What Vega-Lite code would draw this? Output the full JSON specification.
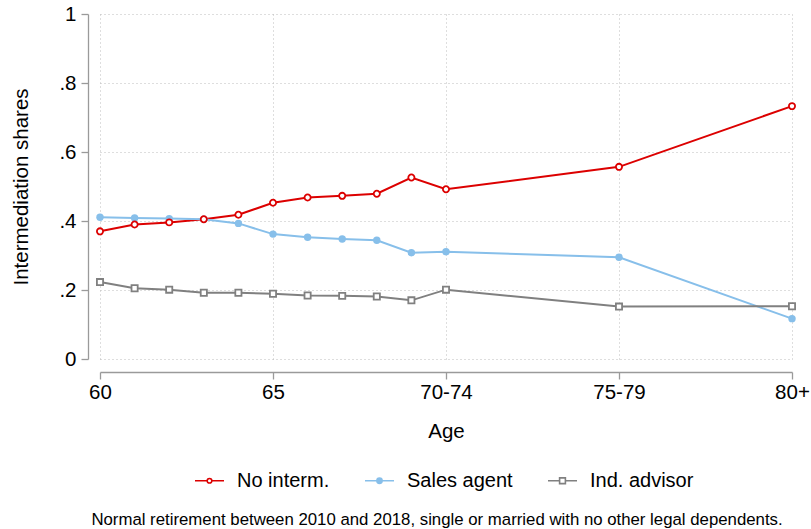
{
  "$schema": "https://vega.github.io/schema/vega-lite/v6.json",
  "width": 692,
  "height": 345,
  "autosize": {"type": "none"},
  "padding": {"left": 100, "top": 14, "right": 19, "bottom": 170},
  "background": "white",
  "config": {
    "font": "Liberation Sans",
    "view": {"stroke": null},
    "axis": {
      "domainColor": "#9a9a9a",
      "tickColor": "#9a9a9a",
      "domainWidth": 1.3,
      "tickWidth": 1.3,
      "tickSize": 7,
      "labelColor": "#000000",
      "titleColor": "#000000",
      "labelFontSize": 20.5,
      "titleFontSize": 20.5,
      "titleFontWeight": "normal",
      "gridColor": "#bdbdbd",
      "gridDash": [1, 3],
      "gridWidth": 1
    }
  },
  "title": {
    "text": "Normal retirement between 2010 and 2018, single or married with no other legal dependents.",
    "orient": "bottom",
    "anchor": "middle",
    "fontSize": 16.8,
    "fontWeight": "normal",
    "color": "#000000",
    "offset": 21,
    "dx": -9
  },
  "data": {
    "values": [
      {"age": 60, "series": "No interm.", "share": 0.370},
      {"age": 61, "series": "No interm.", "share": 0.390},
      {"age": 62, "series": "No interm.", "share": 0.396},
      {"age": 63, "series": "No interm.", "share": 0.405},
      {"age": 64, "series": "No interm.", "share": 0.418},
      {"age": 65, "series": "No interm.", "share": 0.453},
      {"age": 66, "series": "No interm.", "share": 0.468},
      {"age": 67, "series": "No interm.", "share": 0.473},
      {"age": 68, "series": "No interm.", "share": 0.479},
      {"age": 69, "series": "No interm.", "share": 0.526},
      {"age": 70, "series": "No interm.", "share": 0.492},
      {"age": 75, "series": "No interm.", "share": 0.557},
      {"age": 80, "series": "No interm.", "share": 0.733},
      {"age": 60, "series": "Sales agent", "share": 0.411},
      {"age": 61, "series": "Sales agent", "share": 0.409},
      {"age": 62, "series": "Sales agent", "share": 0.407},
      {"age": 63, "series": "Sales agent", "share": 0.405},
      {"age": 64, "series": "Sales agent", "share": 0.393},
      {"age": 65, "series": "Sales agent", "share": 0.362},
      {"age": 66, "series": "Sales agent", "share": 0.353},
      {"age": 67, "series": "Sales agent", "share": 0.348},
      {"age": 68, "series": "Sales agent", "share": 0.344},
      {"age": 69, "series": "Sales agent", "share": 0.308},
      {"age": 70, "series": "Sales agent", "share": 0.311},
      {"age": 75, "series": "Sales agent", "share": 0.295},
      {"age": 80, "series": "Sales agent", "share": 0.117},
      {"age": 60, "series": "Ind. advisor", "share": 0.223},
      {"age": 61, "series": "Ind. advisor", "share": 0.205},
      {"age": 62, "series": "Ind. advisor", "share": 0.201},
      {"age": 63, "series": "Ind. advisor", "share": 0.192},
      {"age": 64, "series": "Ind. advisor", "share": 0.192},
      {"age": 65, "series": "Ind. advisor", "share": 0.189},
      {"age": 66, "series": "Ind. advisor", "share": 0.184},
      {"age": 67, "series": "Ind. advisor", "share": 0.183},
      {"age": 68, "series": "Ind. advisor", "share": 0.181},
      {"age": 69, "series": "Ind. advisor", "share": 0.170},
      {"age": 70, "series": "Ind. advisor", "share": 0.201},
      {"age": 75, "series": "Ind. advisor", "share": 0.152},
      {"age": 80, "series": "Ind. advisor", "share": 0.153}
    ]
  },
  "encoding": {
    "x": {
      "field": "age",
      "type": "quantitative",
      "scale": {"domain": [60, 80], "nice": false, "zero": false},
      "axis": {
        "values": [60, 65, 70, 75, 80],
        "labelExpr": "datum.value == 70 ? '70-74' : datum.value == 75 ? '75-79' : datum.value == 80 ? '80+' : datum.label",
        "title": "Age",
        "offset": 13,
        "labelPadding": 3,
        "titlePadding": 19,
        "labelFlush": false,
        "grid": true
      }
    },
    "y": {
      "field": "share",
      "type": "quantitative",
      "scale": {"domain": [0, 1], "nice": false},
      "axis": {
        "values": [0, 0.2, 0.4, 0.6, 0.8, 1],
        "labelExpr": "datum.value == 0 ? '0' : datum.value == 1 ? '1' : replace(format(datum.value, '.1f'), '0.', '.')",
        "title": "Intermediation shares",
        "offset": 12,
        "labelPadding": 5,
        "titlePadding": 27,
        "labelFlush": false,
        "grid": true
      }
    }
  },
  "layer": [
    {
      "mark": {"type": "line", "strokeWidth": 2},
      "encoding": {
        "color": {
          "field": "series",
          "type": "nominal",
          "scale": {
            "domain": ["No interm.", "Sales agent", "Ind. advisor"],
            "range": ["#dc0000", "#87bfea", "#808080"]
          },
          "legend": {
            "title": null,
            "orient": "none",
            "direction": "horizontal",
            "legendX": 94,
            "legendY": 451,
            "labelFontSize": 20,
            "labelColor": "#000000",
            "labelOffset": 12,
            "columnPadding": 31,
            "symbolSize": 841,
            "symbolStrokeWidth": 2,
            "encode": {
              "symbols": {
                "update": {
                  "shape": {"signal": "datum.value == 'Sales agent' ? 'M-1,0L1,0M-0.18,0A0.18,0.18 0 1,1 0.18,0A0.18,0.18 0 1,1 -0.18,0Z' : datum.value == 'Ind. advisor' ? 'M-1,0L-0.2,0M0.2,0L1,0M-0.2,-0.2L0.2,-0.2L0.2,0.2L-0.2,0.2Z' : 'M-1,0L-0.16,0M0.16,0L1,0M-0.16,0A0.16,0.16 0 1,1 0.16,0A0.16,0.16 0 1,1 -0.16,0Z'"},
                  "fill": {"signal": "datum.value == 'Sales agent' ? '#87bfea' : 'white'"},
                  "stroke": {"signal": "datum.value == 'Sales agent' ? '#87bfea' : datum.value == 'Ind. advisor' ? '#808080' : '#dc0000'"},
                  "strokeWidth": {"value": 1.6},
                  "size": {"value": 841}
                }
              }
            }
          }
        },
        "detail": {"field": "series"}
      }
    },
    {
      "transform": [{"filter": "datum.series == 'Sales agent'"}],
      "mark": {"type": "point", "shape": "circle", "filled": true, "size": 55, "color": "#87bfea", "opacity": 1}
    },
    {
      "transform": [{"filter": "datum.series == 'No interm.'"}],
      "mark": {"type": "point", "shape": "circle", "filled": false, "size": 38, "stroke": "#dc0000", "fill": "white", "strokeWidth": 1.8, "opacity": 1}
    },
    {
      "transform": [{"filter": "datum.series == 'Ind. advisor'"}],
      "mark": {"type": "point", "shape": "square", "filled": false, "size": 38, "stroke": "#808080", "fill": "white", "strokeWidth": 1.8, "opacity": 1}
    }
  ]
}
